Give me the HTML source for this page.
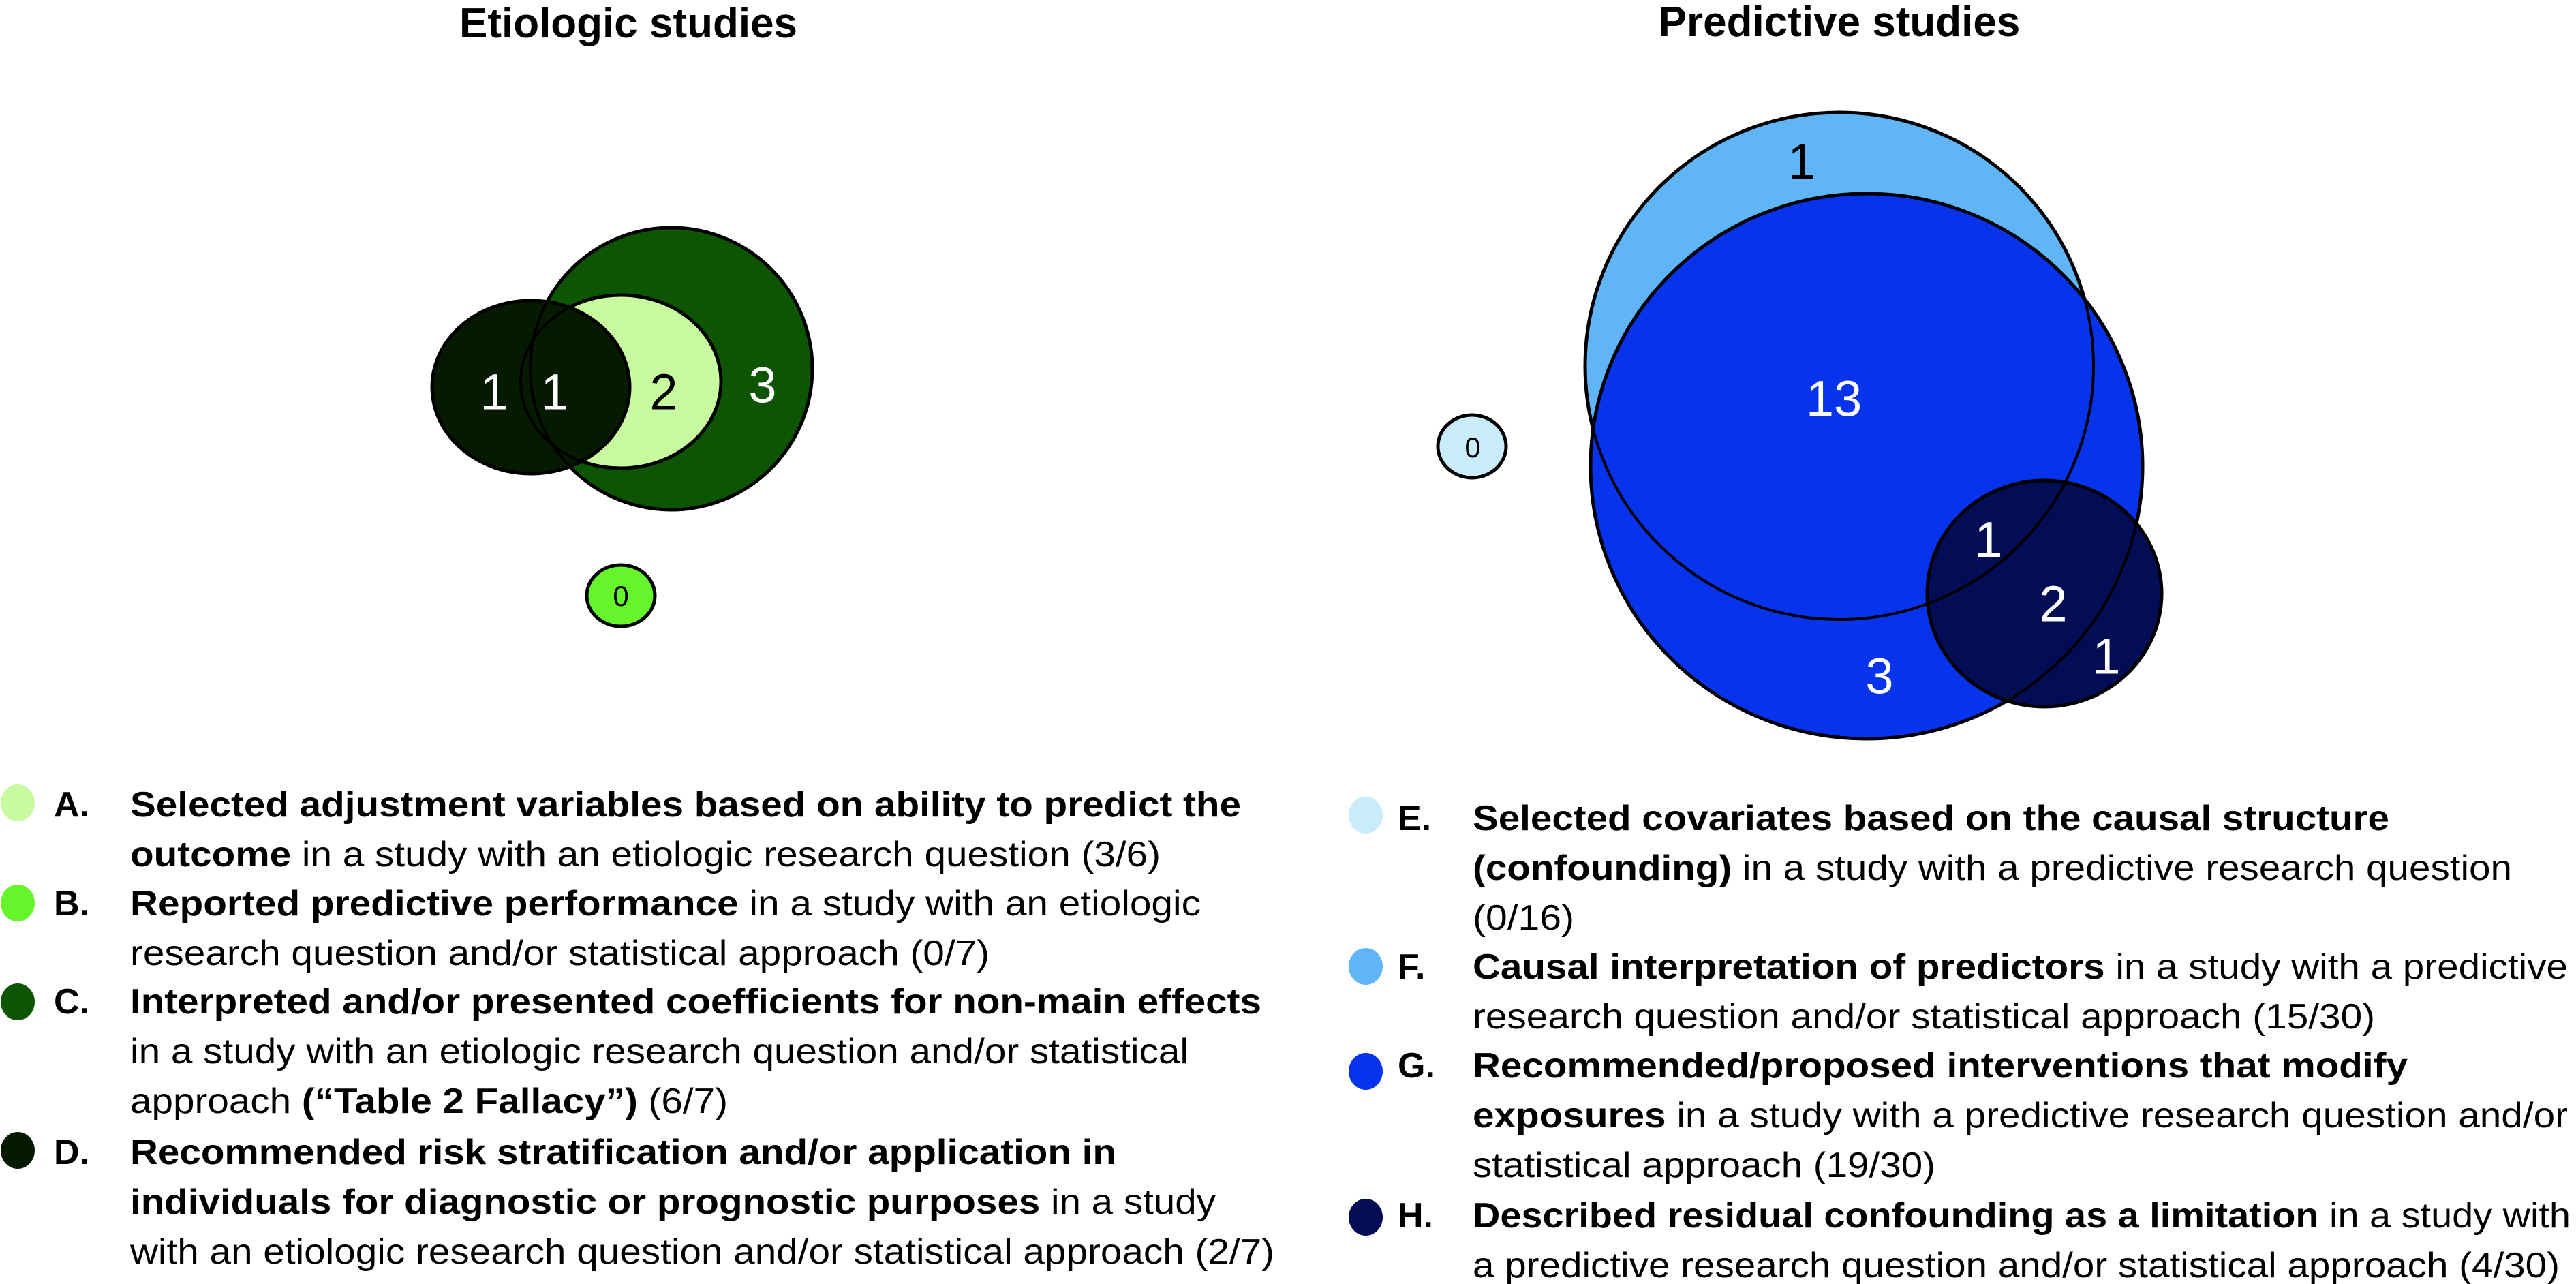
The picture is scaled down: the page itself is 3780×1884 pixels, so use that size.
<!DOCTYPE html>
<html><head><meta charset="utf-8"><style>
html,body{margin:0;padding:0;background:#fff;}
svg{display:block;font-family:"Liberation Sans",Arial,sans-serif;}
</style></head><body>
<svg id="fig" width="3780" height="1884" viewBox="0 0 3780 1884" xmlns="http://www.w3.org/2000/svg">
<text x="922" y="55" font-size="62" font-weight="bold" text-anchor="middle">Etiologic studies</text>
<text x="2699" y="53" font-size="62" font-weight="bold" text-anchor="middle">Predictive studies</text>
<g id="shapes"></g>
<g id="counts"></g>
<g id="legend"></g>
</svg>
<script>
// set names, counts (studies), fill colours
const setKeys = ["C","A","D","B","F","G","H","E"];
const setColors = ["#0d5502","#c8fba0","#061a00","#66f52a","#60b5f7","#0733ec","#020d55","#c8ecfa"];
// region counts and text colour
const regionCounts = ["1","1","2","3","0","1","13","1","2","1","3","0"];
const regionDark = [false,false,true,false,true,true,false,false,false,false,false,true];

// geometry (layout only)
const shapeGeom = [
 [985,541,207,207],[911,560,147,127],[779,568,145,127],[911,874,50,45],
 [2699,537,373,372],[2739,684,405,400],[3000,871,172,166],[2160,655,50,46]
];
const regionPos = [
 [725,574,74],[814,574,74],[974,574,74],[1119,564,74],[911,874,42],
 [2644,236,74],[2691,584,74],[2918,791,74],[3013,885,74],[3091,962,74],[2758,991,74],[2161,656,42]
];
const NS="http://www.w3.org/2000/svg";
const shapes=document.getElementById('shapes');
setKeys.forEach((k,i)=>{
  const g=shapeGeom[i];
  const e=document.createElementNS(NS,'ellipse');
  e.setAttribute('cx',g[0]);e.setAttribute('cy',g[1]);e.setAttribute('rx',g[2]);e.setAttribute('ry',g[3]);
  e.setAttribute('fill',setColors[i]);e.setAttribute('stroke','#000');e.setAttribute('stroke-width','5');
  
  
  shapes.appendChild(e);
});
// redraw outlines on top
setKeys.forEach((k,i)=>{
  const g=shapeGeom[i];
  const e=document.createElementNS(NS,'ellipse');
  e.setAttribute('cx',g[0]);e.setAttribute('cy',g[1]);e.setAttribute('rx',g[2]);e.setAttribute('ry',g[3]);
  e.setAttribute('fill','none');e.setAttribute('stroke','#000');e.setAttribute('stroke-width','4');
  
  
  shapes.appendChild(e);
});
const counts=document.getElementById('counts');
regionCounts.forEach((c,i)=>{
  const p=regionPos[i];
  const t=document.createElementNS(NS,'text');
  t.setAttribute('x',p[0]);t.setAttribute('y',p[1]+p[2]*0.36);
  t.setAttribute('font-size',p[2]);t.setAttribute('text-anchor','middle');
  t.setAttribute('fill',regionDark[i]?'#000':'#fff');
  t.textContent=c;
  
  
  counts.appendChild(t);
});

// legend
const legendLetters = ["A.","B.","C.","D.","E.","F.","G.","H."];
const legendLines = [
 [[["Selected adjustment variables based on ability to predict the",1]],[["outcome",1],[" in a study with an etiologic research question (3/6)",0]]],
 [[["Reported predictive performance",1],[" in a study with an etiologic",0]],[["research question and/or statistical approach (0/7)",0]]],
 [[["Interpreted and/or presented coefficients for non-main effects",1]],[["in a study with an etiologic research question and/or statistical",0]],[["approach ",0],["(\u201cTable 2 Fallacy\u201d)",1],[" (6/7)",0]]],
 [[["Recommended risk stratification and/or application in",1]],[["individuals for diagnostic or prognostic purposes",1],[" in a study",0]],[["with an etiologic research question and/or statistical approach (2/7)",0]]],
 [[["Selected covariates based on the causal structure",1]],[["(confounding)",1],[" in a study with a predictive research question",0]],[["(0/16)",0]]],
 [[["Causal interpretation of predictors",1],[" in a study with a predictive",0]],[["research question and/or statistical approach (15/30)",0]]],
 [[["Recommended/proposed interventions that modify",1]],[["exposures",1],[" in a study with a predictive research question and/or",0]],[["statistical approach (19/30)",0]]],
 [[["Described residual confounding as a limitation",1],[" in a study with",0]],[["a predictive research question and/or statistical approach (4/30)",0]]]
];
const legendColors = ["#c8fba0","#66f52a","#0d5502","#061a00","#c8ecfa","#60b5f7","#0733ec","#020d55"];
// layout: [dotX, dotY, letterX, textX, firstBaseline, lineEnds...]
const legendLayout = [
 [26,1178,79,191,1198,[1821,1703]],
 [26,1325,79,191,1343,[1762,1452]],
 [26,1470,79,191,1487,[1851,1744,1068]],
 [26,1688,79,191,1708,[1638,1784,1870]],
 [2004,1196,2051,2161,1218,[3506,3686,2310]],
 [2004,1418,2051,2161,1436,[3768,3485]],
 [2004,1572,2051,2161,1581,[3533,3768,2840]],
 [2004,1786,2051,2161,1801,[3772,3756]]
];
const lg=document.getElementById('legend');
legendLetters.forEach((L,i)=>{
  const lay=legendLayout[i];
  const d=document.createElementNS(NS,'ellipse');
  d.setAttribute('cx',lay[0]);d.setAttribute('cy',lay[1]);d.setAttribute('rx',25);d.setAttribute('ry',27);
  d.setAttribute('fill',legendColors[i]);
  
  
  lg.appendChild(d);
  const lt=document.createElementNS(NS,'text');
  lt.setAttribute('x',lay[2]);lt.setAttribute('y',lay[4]);lt.setAttribute('font-size',52);lt.setAttribute('font-weight','bold');
  lt.textContent=L;
  
  
  lg.appendChild(lt);
  legendLines[i].forEach((line,j)=>{
    const t=document.createElementNS(NS,'text');
    const y=lay[4]+j*73;
    t.setAttribute('x',lay[3]);t.setAttribute('y',y);t.setAttribute('font-size',52);
    t.setAttribute('textLength',lay[5][j]-lay[3]);t.setAttribute('lengthAdjust','spacingAndGlyphs');
    line.forEach(seg=>{
      const s=document.createElementNS(NS,'tspan');
      if(seg[1]) s.setAttribute('font-weight','bold');
      s.textContent=seg[0];
      t.appendChild(s);
    });
    
    
    lg.appendChild(t);
  });
});
</script>
</body></html>
